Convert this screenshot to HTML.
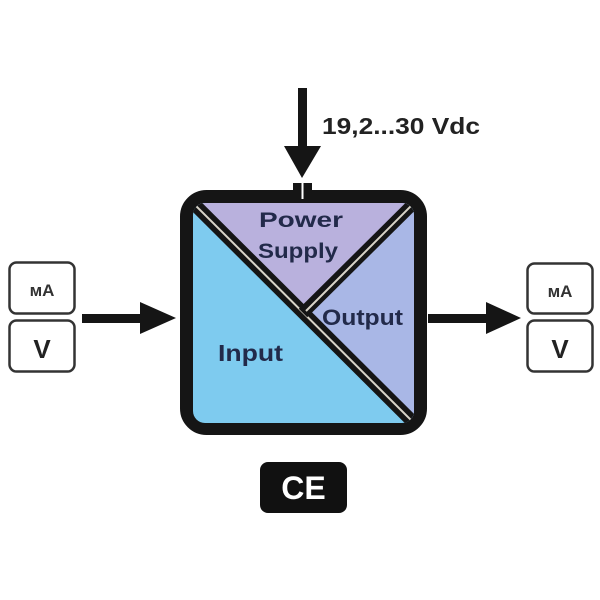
<!DOCTYPE html>
<html><head><meta charset="utf-8"><style>
html,body{margin:0;padding:0;background:#fff;}
svg{display:block;}
text{font-family:"Liberation Sans",Arial,sans-serif;font-weight:bold;}
</style></head><body>
<svg width="600" height="600" viewBox="0 0 600 600" xmlns="http://www.w3.org/2000/svg">
<defs>
<clipPath id="inner"><rect x="193" y="203" width="221" height="220" rx="12"/></clipPath>
</defs>
<rect x="186.5" y="196.5" width="234" height="232" rx="20" fill="#151515" stroke="#151515" stroke-width="13"/>
<g clip-path="url(#inner)">
<rect x="193" y="203" width="221" height="220" fill="#7ecbef"/>
<polygon points="193,203 414,203 303,312" fill="#b9b1dd"/>
<polygon points="414,203 414,423 303,312" fill="#a9b7e6"/>
<line x1="185" y1="195" x2="422" y2="431" stroke="#151515" stroke-width="13"/>
<line x1="185" y1="195" x2="422" y2="431" stroke="#d8d4c8" stroke-width="2"/>
<line x1="422" y1="195" x2="303" y2="313" stroke="#151515" stroke-width="12"/>
<line x1="422" y1="195" x2="306" y2="311" stroke="#d8d4c8" stroke-width="2"/>
</g>
<text x="259" y="227" font-size="21" fill="#222a4a" textLength="84" lengthAdjust="spacingAndGlyphs">Power</text>
<text x="258" y="258" font-size="21" fill="#222a4a" textLength="80" lengthAdjust="spacingAndGlyphs">Supply</text>
<text x="322" y="325" font-size="22" fill="#222a4a" textLength="81" lengthAdjust="spacingAndGlyphs">Output</text>
<text x="218" y="361" font-size="23" fill="#222a4a" textLength="65" lengthAdjust="spacingAndGlyphs">Input</text>
<rect x="298" y="88" width="9" height="62" fill="#151515"/>
<polygon points="284,146 321,146 302,178" fill="#151515"/>
<rect x="293" y="183" width="19" height="16" fill="#151515"/>
<rect x="301.5" y="183" width="2" height="16" fill="#fff"/>
<text x="322" y="134" font-size="23" fill="#222" textLength="158" lengthAdjust="spacingAndGlyphs">19,2...30 Vdc</text>
<rect x="9.5" y="262.5" width="65" height="51" rx="7" fill="#fff" stroke="#333" stroke-width="2.5"/>
<rect x="9.5" y="320.5" width="65" height="51" rx="7" fill="#fff" stroke="#333" stroke-width="2.5"/>
<text x="42" y="296" font-size="17" fill="#333" text-anchor="middle">мA</text>
<text x="42" y="358" font-size="26" fill="#222" text-anchor="middle">V</text>
<rect x="82" y="314" width="62" height="9" fill="#151515"/>
<polygon points="140,302 176,318 140,334" fill="#151515"/>
<rect x="527.5" y="263.5" width="65" height="50" rx="7" fill="#fff" stroke="#333" stroke-width="2.5"/>
<rect x="527.5" y="320.5" width="65" height="51" rx="7" fill="#fff" stroke="#333" stroke-width="2.5"/>
<text x="560" y="297" font-size="17" fill="#333" text-anchor="middle">мA</text>
<text x="560" y="358" font-size="26" fill="#222" text-anchor="middle">V</text>
<rect x="428" y="314" width="62" height="9" fill="#151515"/>
<polygon points="486,302 521,318 486,334" fill="#151515"/>
<rect x="260" y="462" width="87" height="51" rx="8" fill="#111"/>
<text x="303.5" y="499" font-size="32" fill="#fff" text-anchor="middle" font-weight="normal" font-family="DejaVu Sans Condensed, sans-serif">CE</text>
</svg>
</body></html>
